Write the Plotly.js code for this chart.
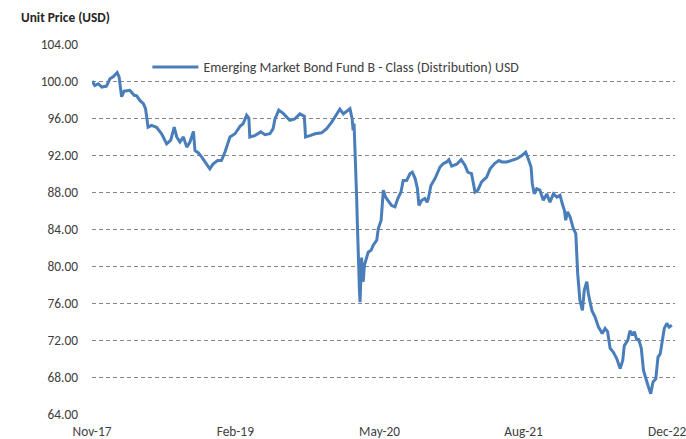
<!DOCTYPE html>
<html>
<head>
<meta charset="utf-8">
<script src="https://cdn.plot.ly/plotly-3.0.1.min.js"></script>
<style>html,body{margin:0;padding:0;background:#fff;}#chart{width:686px;height:439px;}</style>
</head>
<body>
<div id="chart"></div>
<script>
const seriesName = "Emerging Market Bond Fund B - Class (Distribution) USD";
const dates = [
"2017-11-30","2017-12-09","2017-12-20","2017-12-31","2018-01-15","2018-01-26","2018-02-05","2018-02-18","2018-02-24","2018-03-04",
"2018-03-12","2018-03-30","2018-04-13","2018-04-21","2018-05-01","2018-05-12","2018-05-19","2018-05-27","2018-06-07","2018-06-23",
"2018-07-09","2018-07-25","2018-08-07","2018-08-18","2018-08-26","2018-09-05","2018-09-16","2018-09-27","2018-10-07","2018-10-18",
"2018-10-23","2018-11-02","2018-11-13","2018-11-23","2018-12-09","2018-12-20","2019-01-03","2019-01-15","2019-01-26","2019-02-11",
"2019-02-27","2019-03-15","2019-03-25","2019-04-05","2019-04-12","2019-04-15","2019-05-01","2019-05-20","2019-06-02","2019-06-18",
"2019-06-28","2019-07-04","2019-07-16","2019-07-30","2019-08-10","2019-08-20","2019-09-05","2019-09-21","2019-10-05","2019-10-09",
"2019-10-23","2019-11-08","2019-11-29","2019-12-15","2019-12-31","2020-01-16","2020-01-26","2020-02-06","2020-02-17","2020-02-27",
"2020-03-05","2020-03-08","2020-03-11","2020-03-14","2020-03-19","2020-03-22","2020-03-24","2020-03-25","2020-03-28","2020-03-30",
"2020-04-04","2020-04-07","2020-04-09","2020-04-13","2020-04-20","2020-04-25","2020-05-04","2020-05-11","2020-05-22","2020-05-27",
"2020-06-05","2020-06-09","2020-06-12","2020-06-19","2020-06-30","2020-07-08","2020-07-19","2020-07-28","2020-08-07","2020-08-14",
"2020-08-25","2020-09-05","2020-09-12","2020-09-21","2020-09-28","2020-10-03","2020-10-12","2020-10-22","2020-10-29","2020-11-02",
"2020-11-10","2020-11-23","2020-12-09","2020-12-19","2020-12-30","2021-01-06","2021-01-15","2021-01-31","2021-02-14","2021-02-26",
"2021-03-07","2021-03-19","2021-03-30","2021-04-08","2021-04-20","2021-05-06","2021-05-17","2021-06-01","2021-06-14","2021-06-23",
"2021-07-09","2021-07-25","2021-08-10","2021-08-26","2021-09-07","2021-09-15","2021-09-24","2021-09-28","2021-10-04","2021-10-12",
"2021-10-22","2021-11-02","2021-11-13","2021-11-23","2021-12-04","2021-12-15","2021-12-25","2022-01-01","2022-01-08","2022-01-12",
"2022-01-18","2022-01-26","2022-02-05","2022-02-13","2022-02-19","2022-02-26","2022-03-06","2022-03-12","2022-03-20","2022-03-25",
"2022-04-05","2022-04-15","2022-04-26","2022-05-08","2022-05-17","2022-05-25","2022-06-02","2022-06-12","2022-06-23","2022-07-04",
"2022-07-12","2022-07-17","2022-07-28","2022-08-04","2022-08-12","2022-08-18","2022-08-26","2022-08-31","2022-09-09","2022-09-16",
"2022-09-24","2022-10-02","2022-10-09","2022-10-16","2022-10-25","2022-11-01","2022-11-08","2022-11-13","2022-11-21","2022-11-29",
"2022-12-06","2022-12-15"
];
const prices = [
100.0,99.5,99.7,99.35,99.45,100.25,100.45,100.9,100.45,98.3,
98.9,99.0,98.45,98.4,97.9,97.55,97.0,95.0,95.2,95.0,
94.3,93.2,93.6,95.0,93.95,93.4,93.95,92.85,93.4,94.55,
92.5,92.25,91.8,91.25,90.5,91.05,91.4,91.4,92.3,93.95,
94.3,95.1,95.4,96.3,96.0,93.95,94.1,94.5,94.2,94.3,
94.85,95.9,96.85,96.5,96.1,95.75,95.9,96.45,96.2,93.95,
94.1,94.3,94.4,94.85,95.55,96.45,96.95,96.45,96.7,97.0,
95.9,94.65,95.4,93.05,87.65,84.05,80.6,81.0,77.5,76.1,
80.9,78.5,78.3,80.1,80.8,81.5,81.7,82.25,82.8,84.05,
84.95,87.3,88.2,87.45,86.9,86.55,86.4,87.3,88.0,89.25,
89.25,90.0,90.15,89.45,88.4,86.55,87.1,87.3,86.9,87.3,
88.7,89.45,90.7,91.05,91.25,91.5,90.8,91.0,91.5,90.9,
90.15,90.0,88.0,88.2,89.1,89.6,90.5,91.1,91.4,91.25,
91.25,91.4,91.6,91.95,92.3,91.6,90.7,88.9,87.8,88.35,
88.2,87.1,87.8,86.9,87.8,87.45,87.65,86.75,86.0,84.95,
85.85,85.3,84.05,83.5,79.2,76.3,75.2,77.4,78.3,77.0,
75.2,74.5,73.4,72.7,73.25,72.9,71.1,70.7,70.0,68.9,
69.8,71.4,71.95,73.0,72.5,72.9,71.95,72.15,71.1,68.7,
67.65,66.9,66.2,67.45,67.8,70.15,70.5,71.6,73.25,73.8,
73.4,73.6
];
const xTickVals = ["2017-11-30","2019-02-28","2020-05-31","2021-08-31","2022-11-30"];
const xTickText = ["Nov-17","Feb-19","May-20","Aug-21","Dec-22"];
const yTickVals = [64,68,72,76,80,84,88,92,96,100,104];
const yTickText = yTickVals.map(v => v.toFixed(2));

const font = "Carlito, Calibri, 'Liberation Sans', sans-serif";
const trace = {
  type: "scatter", mode: "lines", x: dates, y: prices, name: seriesName,
  line: {color: "#4A7EBB", width: 3}
};
const layout = {
  width: 686, height: 439,
  margin: {l: 92, r: 11, t: 44, b: 25},
  paper_bgcolor: "#fff", plot_bgcolor: "#fff",
  font: {family: font, size: 13.33, color: "#404040"},
  title: {text: "<b>Unit Price (USD)</b>", x: 21/686, xref: "container", xanchor: "left",
          y: 0.96, yref: "container", yanchor: "middle", font: {size: 13.33, color: "#262626", family: font}},
  showlegend: true,
  legend: {x: 0.095, y: 0.98, xanchor: "left", yanchor: "top", bgcolor: "rgba(0,0,0,0)",
           itemwidth: 46, font: {size: 13.9, color: "#404040", family: font}},
  xaxis: {type: "date", range: ["2017-11-30", "2022-12-25"], tickvals: xTickVals, ticktext: xTickText,
          showgrid: false, zeroline: false, showline: false, ticks: "", ticklabelstandoff: 8,
          ticklabeloverflow: "allow"},
  yaxis: {range: [64, 104], tickvals: yTickVals, ticktext: yTickText, showgrid: true,
          gridcolor: "#868686", gridwidth: 1, griddash: "4px,3px", zeroline: false, showline: false,
          ticks: "", ticklabelstandoff: 13}
};
Plotly.newPlot("chart", [trace], layout, {displayModeBar: false});
</script>
</body>
</html>
